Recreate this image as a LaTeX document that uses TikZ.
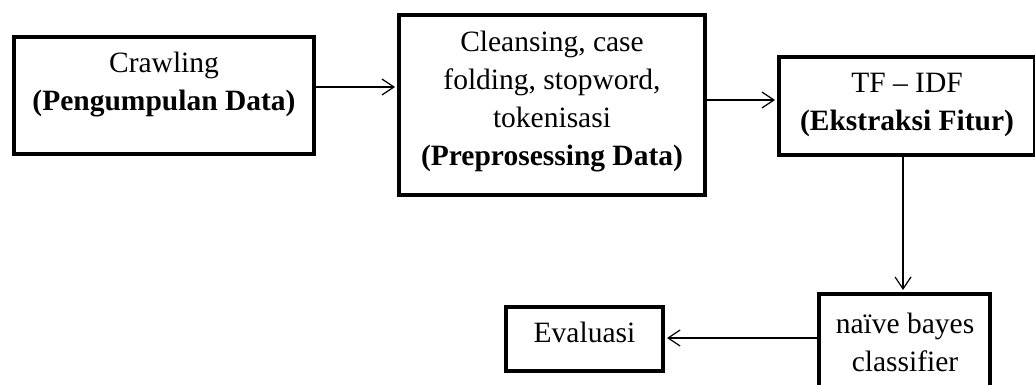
\documentclass[tikz,border=0pt]{standalone}
\usepackage{fontspec}
\setmainfont{Liberation Serif}
\usetikzlibrary{arrows.meta}
\begin{document}
\begin{tikzpicture}[x=1pt,y=-1pt,
  box/.style={draw=black,line width=4pt,inner sep=0pt},
  txt/.style={align=center,inner sep=0pt,font=\fontsize{29.5}{38}\selectfont},
  arr/.style={line width=1.2pt,-{Straight Barb[length=12pt,width=16pt]},shorten >=2pt}]
\useasboundingbox (0,0) rectangle (1035,385);
\clip (0,0) rectangle (1035,385);
\node[box,minimum width=300pt,minimum height=117pt] (b1) at (164,95.5) {};
\node[box,minimum width=306pt,minimum height=180pt] (b2) at (552,105) {};
\node[box,minimum width=256pt,minimum height=98pt] (b3) at (907,106) {};
\node[box,minimum width=171pt,minimum height=98pt] (b4) at (904.5,343) {};
\node[box,minimum width=157pt,minimum height=64pt] (b5) at (584.5,339) {};
\node[txt] (t1) at (164,84.5) {Crawling\\\textbf{(Pengumpulan Data)}};
\node[txt] (t2) at (552,101.5) {Cleansing, case\\folding, stopword,\\tokenisasi\\\textbf{(Preprosessing Data)}};
\node[txt] (t3) at (907,104.5) {TF -- IDF\\\textbf{(Ekstraksi Fitur)}};
\node[txt] (t4) at (905,342) {naïve bayes\\classifier};
\node[txt] (t5) at (584.5,332) {Evaluasi};
\draw[arr] (b1.east |- 0,87) -- (b2.west |- 0,87);
\draw[arr] (b2.east |- 0,100) -- (b3.west |- 0,100);
\draw[arr] (b3.south -| 903,0) -- (b4.north -| 903,0);
\draw[arr] (b4.west |- 0,338) -- (b5.east |- 0,338);
\end{tikzpicture}
\end{document}
